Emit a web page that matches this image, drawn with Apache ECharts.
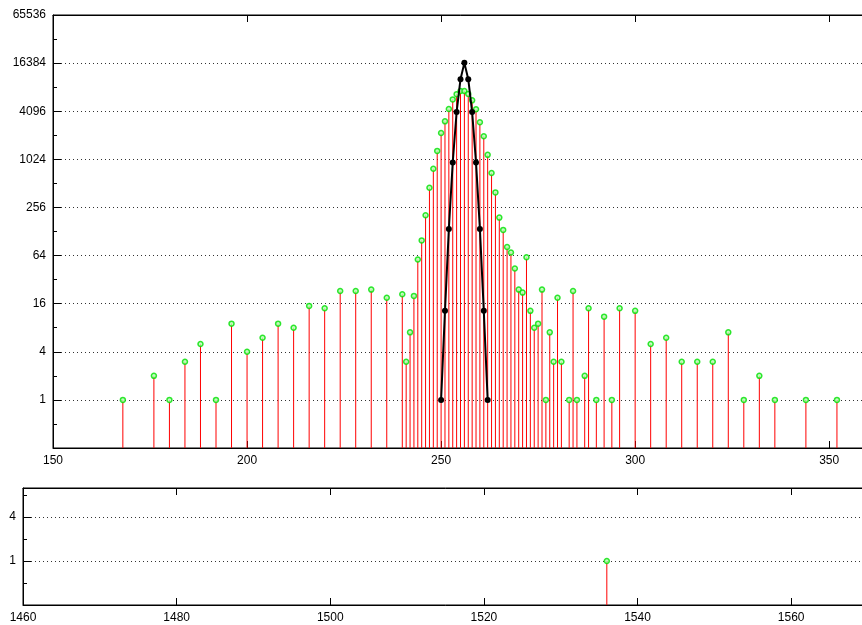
<!DOCTYPE html>
<html>
<head>
<meta charset="utf-8">
<script src="https://cdn.jsdelivr.net/npm/echarts@6/dist/echarts.min.js"></script>
<style>
  html, body { margin: 0; padding: 0; background: #fff; overflow: hidden; }
  /* the plot box runs a few pixels past the right edge of the window, as in the original */
  #chart { width: 872px; height: 625px; }
</style>
</head>
<body>
<div id="chart"></div>
<script>
// histogram positions and counts (top panel)
const xs = [168,176,180,184,188,192,196,200,204,208,212,216,220,224,228,232,236,240,241,242,
  243,244,245,246,247,248,249,250,251,252,253,254,255,256,257,258,259,260,261,262,
  263,264,265,266,267,268,269,270,271,272,273,274,275,276,277,278,279,280,281,283,284,285,
  287,288,290,292,294,296,300,304,308,312,316,320,324,328,332,336,344,352]
const counts = [1,2,1,3,5,1,9,4,6,9,8,15,14,23,23,24,19,21,3,7,
  20,57,99,204,452,780,1306,2190,3060,4360,5760,6700,7320,7320,6750,5600,4330,2980,1990,1165,
  690,395,191,134,82,70,44,24,22,61,13,8,9,24,1,7,3,19,3,1,23,1,
  2,14,1,11,1,14,13,5,6,3,3,3,7,1,2,1,1,1]

// fitted peak (black curve)
const fitX = [250,251,252,253,254,255,256,257,258,259,260,261,262]
const fitY = [1,13,138,935,4000,10300,16500,10300,4000,935,138,13,1]

// outlier panel (bottom)
const tailX = [1536]
const tailY = [1]

const chart = echarts.init(document.getElementById('chart'))

const FONT = 'Liberation Sans, Arial, sans-serif'
const baseLine = 0.25

// show only powers of 4 >= 1
function pow4Label (v) {
  const l = Math.log(v) / Math.log(4)
  if (l < -0.5 || Math.abs(l - Math.round(l)) > 1e-6) return ''
  return String(Math.round(Math.pow(4, Math.round(l))))
}

function stemRender (params, api) {
  const x = api.value(0)
  const top = api.coord([x, api.value(1)])
  const bot = api.coord([x, baseLine])
  return {
    type: 'line',
    shape: { x1: top[0], y1: bot[1], x2: top[0], y2: top[1] },
    style: { stroke: '#ff0000', lineWidth: 1 }
  }
}

const greenDot = {
  color: '#b4ffb4',
  borderColor: '#00e000',
  borderWidth: 1.5
}

function xAx (grid, min, max, step, pos) {
  return {
    type: 'value', gridIndex: grid, min: min, max: max, interval: step, position: pos,
    axisLine: { show: true, lineStyle: { color: '#000', width: 1 } },
    axisTick: { show: true, inside: true, length: 7, lineStyle: { color: '#000' } },
    axisLabel: {
      show: pos === 'bottom', margin: 7, color: '#000', fontFamily: FONT, fontSize: 12,
      formatter: function (v) { return (v - min) % step === 0 && v < max ? String(v) : '' },
      showMaxLabel: false
    },
    splitLine: { show: false }
  }
}

function yMajor (grid, max) {
  return {
    type: 'log', logBase: 4, gridIndex: grid, min: baseLine, max: max, interval: 1,
    axisLine: { show: true, lineStyle: { color: '#000', width: 1 } },
    axisTick: { show: true, inside: true, length: 8, lineStyle: { color: '#000' } },
    axisLabel: { margin: 7, color: '#000', fontFamily: FONT, fontSize: 12, formatter: pow4Label },
    splitLine: { show: true, lineStyle: { color: '#333', type: [1, 3], width: 1 } }
  }
}

function yMinor (grid, max) {
  return {
    type: 'log', logBase: 2, gridIndex: grid, min: baseLine, max: max, interval: 1,
    position: 'left', offset: 0,
    axisLine: { show: false },
    axisTick: { show: true, inside: true, length: 4, lineStyle: { color: '#000' } },
    axisLabel: { show: false },
    splitLine: { show: false }
  }
}

const option = {
  animation: false,
  backgroundColor: '#fff',
  grid: [
    { left: 53, width: 815, top: 15, height: 433, show: true, borderColor: '#000', borderWidth: 1 },
    { left: 23, width: 845, top: 488, height: 117, show: true, borderColor: '#000', borderWidth: 1 }
  ],
  xAxis: [
    xAx(0, 150, 360, 50, 'bottom'),
    xAx(0, 150, 360, 50, 'top'),
    xAx(1, 1460, 1570, 20, 'bottom'),
    xAx(1, 1460, 1570, 20, 'top')
  ],
  yAxis: [
    yMajor(0, 65536),
    yMinor(0, 65536),
    yMajor(1, 10),
    yMinor(1, 10)
  ],
  series: [
    {
      type: 'custom', xAxisIndex: 0, yAxisIndex: 0,
      data: xs.map((x, i) => [x, counts[i]]),
      renderItem: stemRender, z: 2
    },
    {
      type: 'scatter', xAxisIndex: 0, yAxisIndex: 0,
      data: xs.map((x, i) => [x, counts[i]]),
      symbol: 'circle', symbolSize: 5, itemStyle: greenDot, z: 3
    },
    {
      type: 'line', xAxisIndex: 0, yAxisIndex: 0,
      data: fitX.map((x, i) => [x, fitY[i]]),
      symbol: 'circle', symbolSize: 6, showSymbol: true,
      lineStyle: { color: '#000', width: 2 },
      itemStyle: { color: '#000', borderColor: '#000', borderWidth: 0 },
      z: 4
    },
    {
      type: 'custom', xAxisIndex: 2, yAxisIndex: 2,
      data: tailX.map((x, i) => [x, tailY[i]]),
      renderItem: stemRender, z: 2
    },
    {
      type: 'scatter', xAxisIndex: 2, yAxisIndex: 2,
      data: tailX.map((x, i) => [x, tailY[i]]),
      symbol: 'circle', symbolSize: 5, itemStyle: greenDot, z: 3
    }
  ]
}

chart.setOption(option)
</script>
</body>
</html>
